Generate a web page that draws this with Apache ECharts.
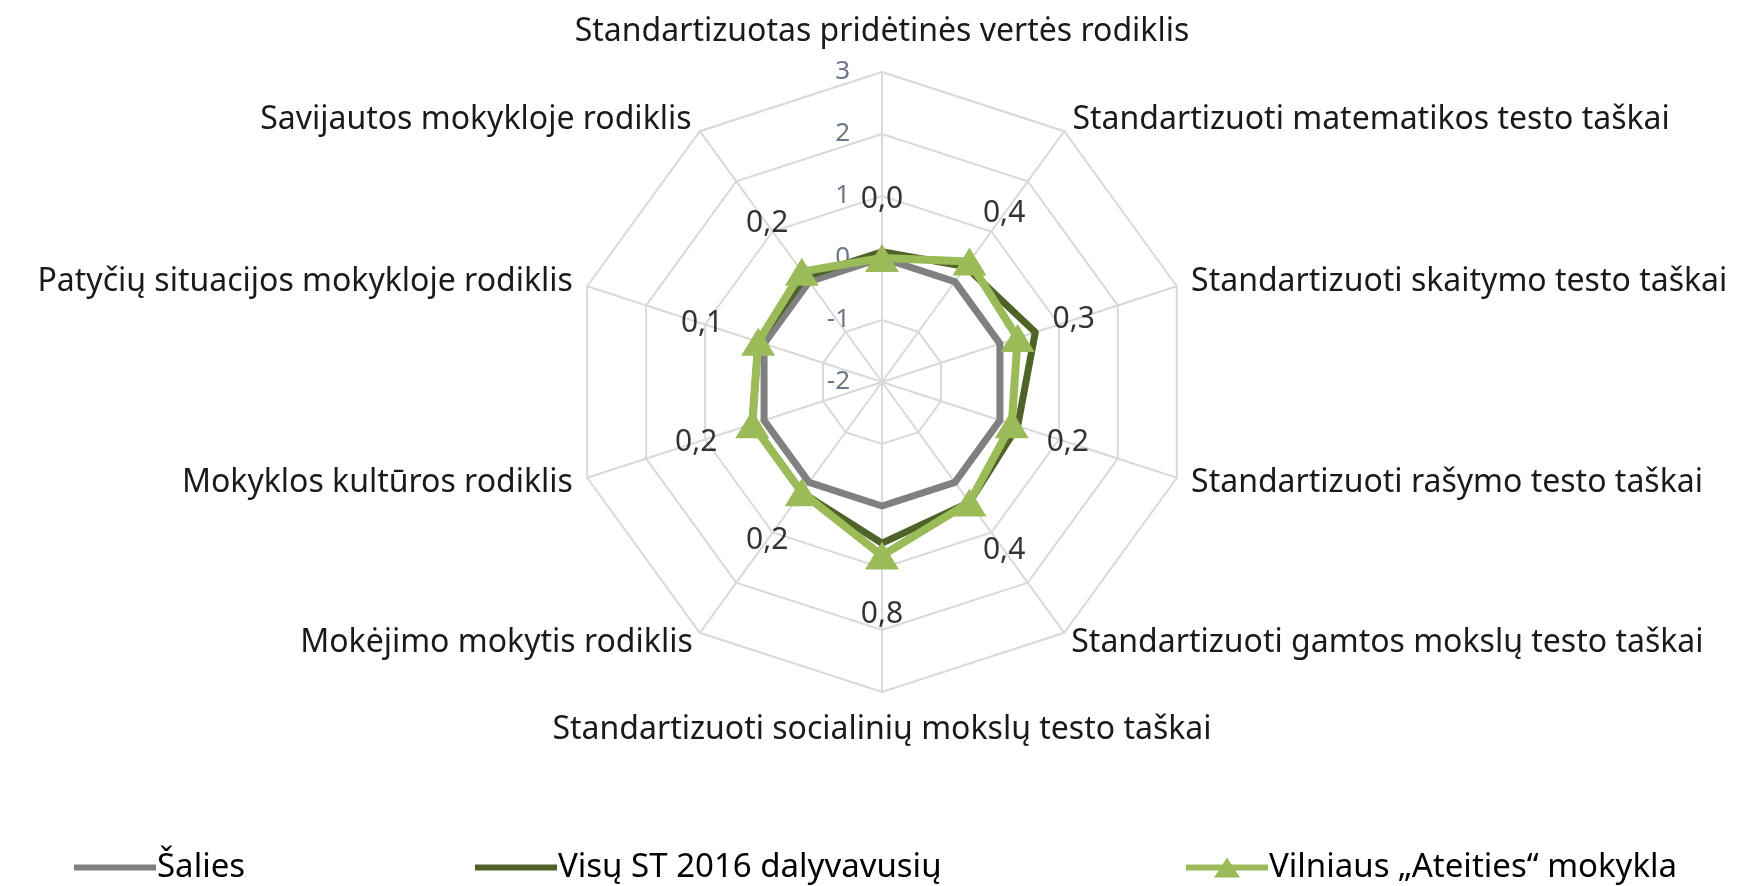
<!DOCTYPE html>
<html>
<head>
<meta charset="utf-8">
<script src="https://cdn.jsdelivr.net/npm/echarts@6/dist/echarts.min.js"></script>
<style>
html,body{margin:0;padding:0;background:#fff;}
#chart{width:1756px;height:886px;}
</style>
</head>
<body>
<div id="chart"></div>
<script>
// rodikliai, pagal laikrodžio rodyklę nuo viršaus
var indicatorNames = [
    'Standartizuotas pridėtinės vertės rodiklis',
    'Standartizuoti matematikos testo taškai',
    'Standartizuoti skaitymo testo taškai',
    'Standartizuoti rašymo testo taškai',
    'Standartizuoti gamtos mokslų testo taškai',
    'Standartizuoti socialinių mokslų testo taškai',
    'Mokėjimo mokytis rodiklis',
    'Mokyklos kultūros rodiklis',
    'Patyčių situacijos mokykloje rodiklis',
    'Savijautos mokykloje rodiklis'
];
var seriesNames = ['Šalies', 'Visų ST 2016 dalyvavusių', 'Vilniaus „Ateities“ mokykla'];
var saliesValues = [0, 0, 0, 0, 0, 0, 0, 0, 0, 0];
var visuValues = [0.1, 0.3, 0.6, 0.3, 0.4, 0.6, 0.2, 0.2, 0.1, 0.1];
var mokyklaValues = [0.0, 0.4, 0.3, 0.2, 0.4, 0.8, 0.2, 0.2, 0.1, 0.2];
var axisMin = -2;
var axisMax = 3;

var nameGaps = [24, 14, 15, 15, 12, 22, 12, 15, 15, 14];
var fontName = '"Noto Sans", "DejaVu Sans", sans-serif';
var center = [882, 382];
var radius = 310;

// echarts radar eina prieš laikrodžio rodyklę, todėl apverčiam tvarką
function radarOrder(arr){
    var out = [arr[0]];
    for(var i=arr.length-1;i>0;i--){
        out.push(arr[i]);
    }
    return out;
}

function buildIndicators(){
    var list = [];
    for(var i=0;i<indicatorNames.length;i++){
        list.push({name:indicatorNames[i], min:axisMin, max:axisMax, nameGap:nameGaps[i]});
    }
    return radarOrder(list);
}

function buildLabelPoints(values){
    var pts = [];
    var n = values.length;
    for(var i=0;i<n;i++){
        var ang = i*360/n;
        var rad = ang*Math.PI/180;
        pts.push({
            value:[values[i], ang],
            label:{offset:[59*Math.sin(rad), -59*Math.cos(rad)]}
        });
    }
    return pts;
}

function legendItem(name, icon, left){
    return {
        data:[{name:name, icon:icon}],
        left:left, top:846, itemWidth:82, itemHeight:20, itemGap:0,
        textStyle:{fontSize:33, color:'#000', fontFamily:fontName, padding:[0,0,0,-4]},
        selectedMode:false
    };
}

var lineIcon = 'path://M0,7H82V13H0Z';
var triIcon = 'path://M0,7H82V13H0Z M41,0L54,20H28Z';

var myChart = echarts.init(document.getElementById('chart'));
var option = {
    animation:false,
    textStyle:{fontFamily:fontName},
    legend:[
        legendItem(seriesNames[0], lineIcon, 69),
        legendItem(seriesNames[1], lineIcon, 470),
        legendItem(seriesNames[2], triIcon, 1181)
    ],
    radar:{
        center:center,
        radius:radius,
        shape:'polygon',
        splitNumber:5,
        indicator:buildIndicators(),
        axisName:{color:'#1a1a1a', fontSize:32, fontFamily:fontName},
        axisLine:{lineStyle:{color:'#d9d9d9', width:2}},
        splitLine:{lineStyle:{color:'#d9d9d9', width:2}},
        splitArea:{show:false},
        axisLabel:{show:false}
    },
    polar:{center:center, radius:radius},
    angleAxis:{type:'value', min:0, max:360, startAngle:90, clockwise:true, show:false},
    radiusAxis:{
        type:'value', min:axisMin, max:axisMax, interval:1,
        axisLine:{show:false}, axisTick:{show:false}, splitLine:{show:false},
        axisLabel:{show:true, color:'#6e7785', fontSize:26, fontFamily:fontName, margin:32, showMinLabel:true, showMaxLabel:true}
    },
    series:[
        {
            type:'radar',
            symbol:'none',
            lineStyle:{color:'#808080', width:7},
            itemStyle:{color:'#808080'},
            z:2,
            data:[{name:seriesNames[0], value:radarOrder(saliesValues)}]
        },
        {
            type:'radar',
            symbol:'none',
            lineStyle:{color:'#4f6228', width:7},
            itemStyle:{color:'#4f6228'},
            z:3,
            data:[{name:seriesNames[1], value:radarOrder(visuValues)}]
        },
        {
            type:'radar',
            symbol:'triangle',
            symbolSize:[34, 28],
            lineStyle:{color:'#9bbb59', width:8},
            itemStyle:{color:'#9bbb59'},
            z:4,
            data:[{name:seriesNames[2], value:radarOrder(mokyklaValues)}]
        },
        {
            type:'scatter',
            coordinateSystem:'polar',
            symbolSize:1,
            itemStyle:{color:'rgba(0,0,0,0)'},
            silent:true,
            z:5,
            label:{
                show:true,
                position:'inside',
                color:'#000',
                fontSize:30,
                fontFamily:fontName,
                formatter:function(p){
                    return p.value[0].toFixed(1).replace('.', ',');
                }
            },
            data:buildLabelPoints(mokyklaValues)
        }
    ]
};
myChart.setOption(option);
</script>
</body>
</html>
